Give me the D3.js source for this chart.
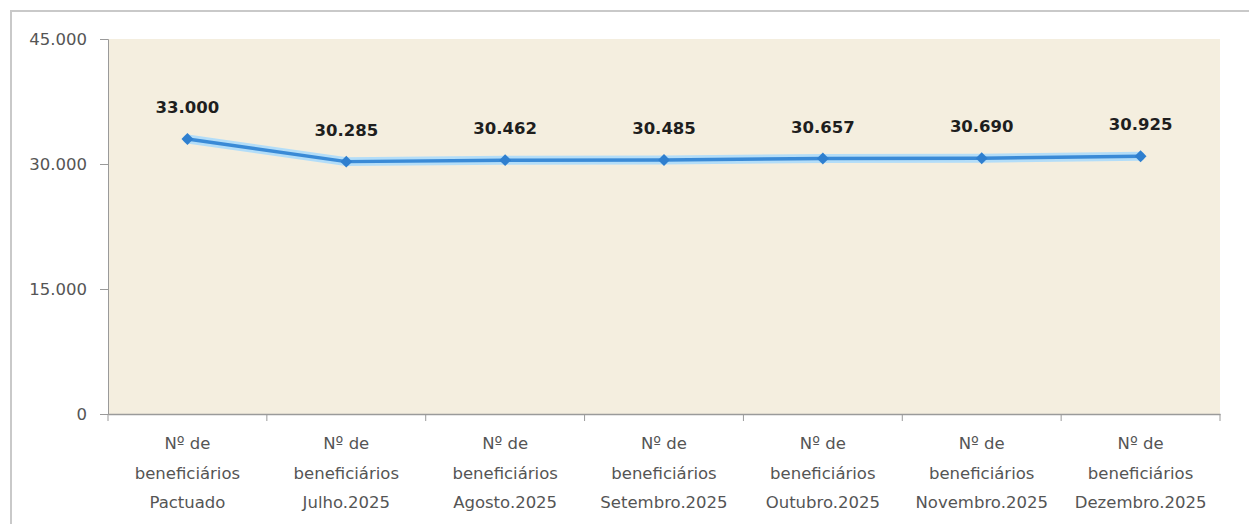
<!DOCTYPE html>
<html><head><meta charset="utf-8">
<script src="https://cdn.jsdelivr.net/npm/d3@7"></script>
<style>body{margin:0;background:#fff}svg{display:block}</style>
</head><body>
<svg id="c" width="1249" height="524"></svg>
<script>
const categories = [
  ["Nº de","beneficiários","Pactuado"],
  ["Nº de","beneficiários","Julho.2025"],
  ["Nº de","beneficiários","Agosto.2025"],
  ["Nº de","beneficiários","Setembro.2025"],
  ["Nº de","beneficiários","Outubro.2025"],
  ["Nº de","beneficiários","Novembro.2025"],
  ["Nº de","beneficiários","Dezembro.2025"]
];
const values = [33000, 30285, 30462, 30485, 30657, 30690, 30925];
const yTicks = [0, 15000, 30000, 45000];
const fmt = v => d3.format(",")(v).replace(/,/g, ".");

const svg = d3.select("#c");
const L = 108, R = 1220, T = 39, B = 414;
const font = "'DejaVu Sans', sans-serif";

// outer frame
svg.append("path").attr("d", "M11,524 V11 H1249").attr("fill","none")
  .attr("stroke","#c9c9c9").attr("stroke-width",2);

const x = d3.scaleBand().domain(d3.range(categories.length)).range([L, R]);
const y = d3.scaleLinear().domain([0, 45000]).range([B, T]);

svg.append("rect").attr("x", L).attr("y", T).attr("width", R - L).attr("height", B - T)
  .attr("fill", "#f4eedf");

// y axis
const ya = svg.append("g").attr("transform", `translate(${L},0)`)
  .call(d3.axisLeft(y).tickValues(yTicks).tickFormat(fmt).tickSize(8).tickPadding(13));
ya.select(".domain").attr("stroke","#9a9a9a");
ya.selectAll(".tick line").attr("stroke","#9a9a9a");
ya.selectAll("text").attr("font-family", font).attr("font-size", 16.5).attr("fill","#555");

// x axis
const xa = svg.append("g").attr("transform", `translate(0,${B})`)
  .call(d3.axisBottom(x).tickSize(0).tickFormat(""));
xa.select(".domain").attr("stroke","#9a9a9a").attr("stroke-width",1.5);
svg.append("g").selectAll("line").data(d3.range(categories.length + 1)).join("line")
  .attr("x1", i => L + i * x.step()).attr("x2", i => L + i * x.step())
  .attr("y1", B).attr("y2", B + 7).attr("stroke", "#9a9a9a");

const lbl = svg.append("g").selectAll("text").data(categories).join("text")
  .attr("font-family", font).attr("font-size", 16.5).attr("fill", "#555")
  .attr("text-anchor", "middle");
lbl.selectAll("tspan").data((d, i) => d.map(t => ({t, i}))).join("tspan")
  .attr("x", d => x(d.i) + x.bandwidth() / 2)
  .attr("y", (d, j) => 449 + j * 29.5)
  .text(d => d.t);

// line
const cx = i => x(i) + x.bandwidth() / 2;
const line = d3.line().x((d, i) => cx(i)).y(d => y(d));
svg.append("path").datum(values).attr("d", line).attr("fill","none")
  .attr("stroke","#b3ddf8").attr("stroke-width",9).attr("stroke-linejoin","round")
  .attr("stroke-linecap","round");
svg.append("path").datum(values).attr("d", line).attr("fill","none")
  .attr("stroke","#3a8ad6").attr("stroke-width",3.5).attr("stroke-linejoin","round");
svg.append("g").selectAll("path").data(values).join("path")
  .attr("d", d3.symbol(d3.symbolDiamond2, 90))
  .attr("transform", (d, i) => `translate(${cx(i)},${y(d)})`)
  .attr("fill", "#2f7fcf");

svg.append("g").selectAll("text").data(values).join("text")
  .attr("x", (d, i) => cx(i)).attr("y", d => y(d) - 26)
  .attr("text-anchor","middle").attr("font-family", font).attr("font-weight","bold")
  .attr("font-size", 16.5).attr("fill","#1e1e1e").text(fmt);
</script>
</body></html>
